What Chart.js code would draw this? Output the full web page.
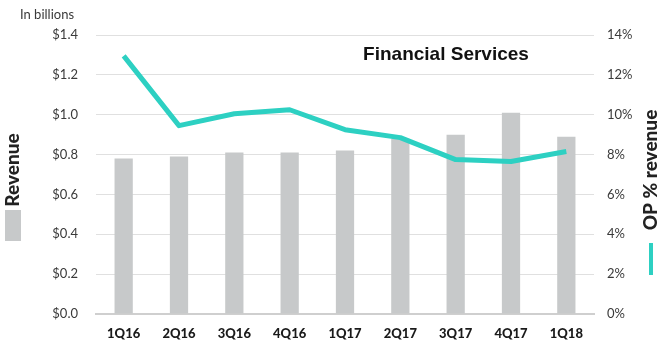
<!DOCTYPE html>
<html>
<head>
<meta charset="utf-8">
<script src="https://cdn.jsdelivr.net/npm/chart.js@4"></script>
<style>
html,body{margin:0;padding:0;background:#fff;}
#wrap{width:668px;height:356px;position:relative;}
</style>
</head>
<body>
<div id="wrap"><canvas id="c" width="668" height="356"></canvas></div>
<script>
const categories = ["1Q16","2Q16","3Q16","4Q16","1Q17","2Q17","3Q17","4Q17","1Q18"];
const revenue = [0.78, 0.79, 0.81, 0.81, 0.82, 0.88, 0.90, 1.01, 0.89];
const opPercent = [12.95, 9.45, 10.05, 10.25, 9.25, 8.85, 7.75, 7.65, 8.15];
const leftTicks = ["$0.0","$0.2","$0.4","$0.6","$0.8","$1.0","$1.2","$1.4"];
const rightTicks = ["0%","2%","4%","6%","8%","10%","12%","14%"];

const BAR = '#c7c9ca', TEAL = '#2dd0c2', GRID = '#e0e0e0', TXT = '#3a3a3a';

const decor = {
  id: 'decor',
  afterDraw(chart) {
    const ctx = chart.ctx;
    ctx.save();
    ctx.fillStyle = TXT;
    ctx.font = '13px Lato';
    ctx.textAlign = 'left'; ctx.textBaseline = 'middle';
    ctx.fillText('In billions', 20, 15);
    ctx.fillStyle = '#111';
    ctx.font = 'bold 19px "Liberation Sans", Arial';
    ctx.textAlign = 'center';
    ctx.fillText('Financial Services', 446, 55);
    ctx.save();
    ctx.translate(13, 170);
    ctx.rotate(-Math.PI/2);
    ctx.font = '900 19px Lato';
    ctx.fillStyle = '#222';
    ctx.fillText('Revenue', 0, 0);
    ctx.restore();
    ctx.fillStyle = BAR;
    ctx.fillRect(5, 210, 16, 31);
    ctx.save();
    ctx.translate(651, 170);
    ctx.rotate(-Math.PI/2);
    ctx.font = '900 19px Lato';
    ctx.fillStyle = '#222';
    ctx.textAlign = 'center';
    ctx.fillText('OP % revenue', 0, 0);
    ctx.restore();
    ctx.fillStyle = TEAL;
    ctx.fillRect(649, 243, 4, 32);
    ctx.restore();
  }
};

new Chart(document.getElementById('c'), {
  data: {
    labels: categories,
    datasets: [
      { type: 'line', label: 'OP % revenue', data: opPercent, yAxisID: 'yR',
        borderColor: TEAL, borderWidth: 5, pointRadius: 0, tension: 0, order: 0,
        borderCapStyle: 'butt', borderJoinStyle: 'round' },
      { type: 'bar', label: 'Revenue', data: revenue, yAxisID: 'yL',
        backgroundColor: BAR, barPercentage: 0.33, categoryPercentage: 1, order: 1 }
    ]
  },
  options: {
    responsive: false, animation: false,
    layout: { padding: { top: 35, left: 0, right: 0, bottom: 0 } },
    plugins: { legend: { display: false }, tooltip: { enabled: false } },
    scales: {
      x: {
        grid: { display: false, drawTicks: false },
        border: { color: '#cfcfcf', width: 2 },
        ticks: { color: '#1a1a1a', font: { family: 'Lato', weight: '900', size: 13 }, padding: 12, maxRotation: 0 },
        afterFit(s) { s.height = 42; }
      },
      yL: {
        position: 'left', min: 0, max: 1.4,
        grid: { color: GRID, drawTicks: false },
        border: { display: false },
        ticks: { stepSize: 0.2, padding: 18, color: TXT, font: { family: 'Lato', size: 13 },
          callback: (v, i) => leftTicks[i] },
        afterFit(s) { s.width = 96; }
      },
      yR: {
        position: 'right', min: 0, max: 14,
        grid: { display: false, drawTicks: false },
        border: { display: false },
        ticks: { stepSize: 2, padding: 13, color: TXT, font: { family: 'Lato', size: 13 },
          callback: (v, i) => rightTicks[i] },
        afterFit(s) { s.width = 74; }
      }
    }
  },
  plugins: [decor]
});
</script>
</body>
</html>
